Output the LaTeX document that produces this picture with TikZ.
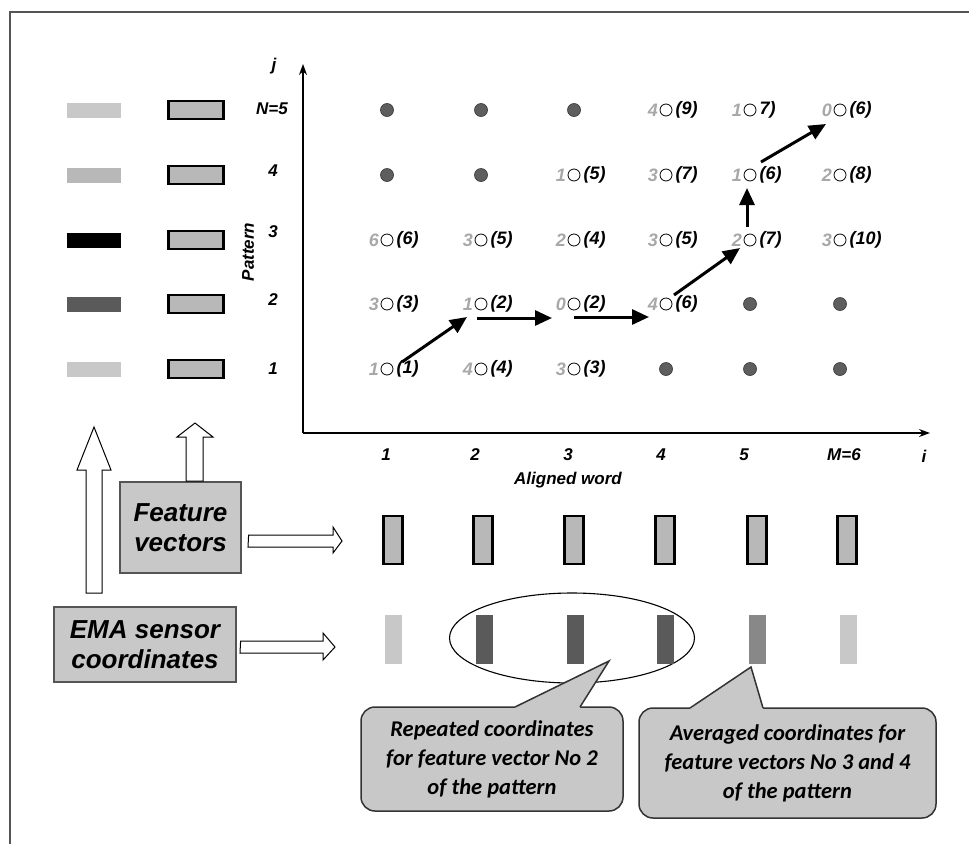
\documentclass[tikz,border=0pt]{standalone}
\usepackage{fontspec}
\setmainfont{Liberation Sans}
\newfontfamily\calloutfont{Carlito}
\usetikzlibrary{arrows.meta,calc,shapes.geometric}
\definecolor{lightbar}{HTML}{C8C8C8}
\definecolor{midbar}{HTML}{B8B8B8}
\definecolor{darkbar}{HTML}{5A5A5A}
\definecolor{medbar}{HTML}{888888}
\definecolor{numgray}{HTML}{A8A8A8}
\definecolor{boxfill}{HTML}{C8C8C8}
\definecolor{rectfill}{HTML}{B8B8B8}
\definecolor{framecol}{HTML}{555555}
\definecolor{dotgray}{HTML}{5E5E5E}
\definecolor{dotedge}{HTML}{404040}
\tikzset{
  lbl/.style={font=\fontsize{17}{17}\selectfont\bfseries\itshape, inner sep=0pt},
  glbl/.style={font=\fontsize{18}{18}\selectfont\bfseries\itshape, inner sep=0pt},
  cell/.style={circle, draw=black, line width=0.8pt, minimum size=12pt, inner sep=0pt},
  fdot/.style={circle, fill=dotgray, draw=dotedge, line width=0.7pt, minimum size=13pt, inner sep=0pt},
  gnum/.style={glbl, text=numgray, anchor=east},
  bnum/.style={glbl, anchor=west},
  walk/.style={line width=3pt, -{Triangle[length=17pt,width=15pt]}},
  fvrect/.style={draw=black, line width=2.5pt, fill=rectfill, inner sep=0pt},
  colorbar/.style={inner sep=0pt, minimum width=54pt, minimum height=15pt},
  emabar/.style={inner sep=0pt, minimum width=17pt, minimum height=49pt},
  hollow/.style={draw=black, line width=1pt, fill=white},
  bigbox/.style={draw=framecol, line width=1.2pt, fill=boxfill, align=center,
     font=\fontsize{26}{30}\selectfont\bfseries\itshape},
  callbox/.style={draw=black!80, line width=1.5pt, fill=boxfill, rounded corners=14pt,
     align=center, font=\calloutfont\fontsize{22.5}{29}\selectfont\bfseries\itshape}
}
\begin{document}
\begin{tikzpicture}[x=1pt,y=-1pt]
\useasboundingbox (0,0) rectangle (969,844);
% frame
\draw[framecol, line width=2pt] (10,844) -- (10,12) -- (969,12);

% column and row positions
\coordinate (X1) at (387,0); \coordinate (X2) at (481,0); \coordinate (X3) at (574,0);
\coordinate (X4) at (666,0); \coordinate (X5) at (750,0); \coordinate (X6) at (840,0);
\coordinate (Y1) at (0,369); \coordinate (Y2) at (0,304); \coordinate (Y3) at (0,240);
\coordinate (Y4) at (0,175); \coordinate (Y5) at (0,110);

% axes
\coordinate (O) at (303,433);
\coordinate (jtip) at (303,64);
\coordinate (itip) at (930,433);
\draw[line width=1.3pt, -{Stealth[length=11pt,width=8pt]}] (O) -- (jtip);
\draw[line width=1.3pt, -{Stealth[length=11pt,width=8pt]}] (O) -- (itip);
\node[lbl] (jlab) at (274,66) {j};
\node[lbl] (ilab) at (924,456) {i};
\node[lbl] (plab) at (248,252) [rotate=90] {Pattern};
\node[lbl] (awlab) at (568,480) {Aligned word};

% row labels
\node[lbl] (r5) at (272,109) {N=5};
\node[lbl] (r4) at (273,171) {4};
\node[lbl] (r3) at (273,232) {3};
\node[lbl] (r2) at (273,300) {2};
\node[lbl] (r1) at (273,369) {1};
% column labels
\foreach \c/\t/\x in {1/1/386,2/2/475,3/3/568,4/4/661,5/5/744,6/M=6/844}
  \node[lbl] (col\c) at (\x,455) {\t};

% left bars
\foreach \r/\col in {5/lightbar,4/midbar,3/black,2/darkbar,1/lightbar}{
  \node[colorbar, fill=\col] (e\r) at (X1 |- Y\r) [xshift=-293pt] {};
  \node[fvrect, minimum width=55pt, minimum height=18pt] (p\r) at (196,0 |- Y\r) {};
}

% grid: filled dots
\foreach \c/\r in {1/5,2/5,3/5,1/4,2/4,5/2,6/2,4/1,5/1,6/1}
  \node[fdot] (c\c\r) at (X\c |- Y\r) {};
% grid: open cells
\foreach \c/\r/\g/\b in {4/5/4/{(9)},5/5/1/{7)},6/5/0/{(6)},
    3/4/1/{(5)},4/4/3/{(7)},5/4/1/{(6)},6/4/2/{(8)},
    1/3/6/{(6)},2/3/3/{(5)},3/3/2/{(4)},4/3/3/{(5)},5/3/2/{(7)},6/3/3/{(10)},
    1/2/3/{(3)},2/2/1/{(2)},3/2/0/{(2)},4/2/4/{(6)},
    1/1/1/{(1)},2/1/4/{(4)},3/1/3/{(3)}}{
  \node[cell] (c\c\r) at (X\c |- Y\r) {};
  \node[gnum] (g\c\r) at ([xshift=-1.5pt]c\c\r.west) {\g};
  \node[bnum] (b\c\r) at ([xshift=3pt]c\c\r.east) {\b};
}

% warping path
\draw[walk] ($(c11)+(15,-7)$) -- ($(c22)+(-14,13)$);
\draw[walk] ($(c22)+(-4,14)$) -- ($(c32)+(-22,14)$);
\draw[walk] ($(c32)+(0,13)$) -- ($(c42)+(-17,13)$);
\draw[walk] ($(c42)+(8,-9)$) -- ($(c53)+(-10,8)$);
\draw[walk] ($(c53)+(-3,-13)$) -- ($(c54)+(-3,13)$);
\draw[walk] ($(c54)+(11,-13)$) -- ($(c65)+(-14,14)$);

% boxes
\node[bigbox, minimum width=121pt, minimum height=91pt] (fv) at (180.5,527.5) {Feature\\vectors};
\node[bigbox, minimum width=182pt, minimum height=75pt] (ema) at (145,644.5) {EMA sensor\\coordinates};

% hollow block arrows
\draw[hollow] (86,593) -- (86,470) -- (77,470) -- (94,427) -- (111,470) -- (102,470) -- (102,593) -- cycle;
\draw[hollow] (186,481) -- (186,437) -- (177,437) -- (195,423) -- (213,437) -- (203,437) -- (203,481) -- cycle;
\draw[hollow] (fv.east |- 0,535) ++(7,0) -- (333,535) -- (333,527) -- (342,541) -- (333,553) -- (333,547) -- (248,547) -- cycle;
\draw[hollow] (ema.east |- 0,641) ++(4,0) -- (323,641) -- (323,633) -- (335,647) -- (323,660) -- (323,653) -- (240,653) -- cycle;

% feature vector rectangles (aligned)
\foreach \c/\x in {1/393,2/483,3/574,4/665,5/757,6/847}
  \node[fvrect, minimum width=19pt, minimum height=48pt] (f\c) at (\x,540) {};

% EMA bars (aligned)
\node[draw=black, line width=1.1pt, ellipse, minimum width=245pt, minimum height=90pt] (ell) at (572,638) {};
\foreach \c/\x/\col in {1/393/lightbar,2/484/darkbar,3/575/darkbar,4/665/darkbar,5/757/medbar,6/848/lightbar}
  \node[emabar, fill=\col] (m\c) at (\x,639.5) {};

% callouts
\node[callbox, minimum width=262pt, minimum height=104pt] (cb1) at (492,759) {Repeated coordinates\\for feature vector No 2\\of the pattern};
\coordinate (t1) at (609,661);
\fill[boxfill] (515,709) -- (515,707) -- (t1) -- (580,707) -- (580,709) -- cycle;
\draw[black!80, line width=1.5pt, line join=miter] (515,707) -- (t1) -- (580,707);

\node[callbox, minimum width=297pt, minimum height=110pt] (cb2) at (787.5,763) {Averaged coordinates for\\feature vectors No 3 and 4\\of the pattern};
\coordinate (t2) at (751,667);
\fill[boxfill] (690,710) -- (690,708) -- (t2) -- (763,708) -- (763,710) -- cycle;
\draw[black!80, line width=1.5pt, line join=miter] (690,708) -- (t2) -- (763,708);
\end{tikzpicture}
\end{document}
